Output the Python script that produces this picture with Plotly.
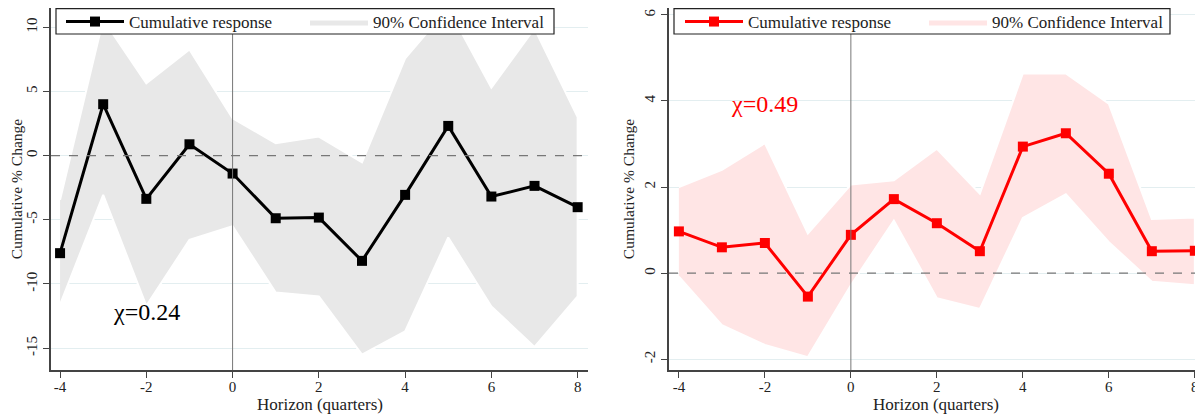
import plotly.graph_objects as go

horizon = [-4, -3, -2, -1, 0, 1, 2, 3, 4, 5, 6, 7, 8]

resp_a = [-7.6, 4.0, -3.37, 0.88, -1.40, -4.88, -4.83, -8.2, -3.06, 2.31, -3.19, -2.36, -4.02]
upper_a = [-3.45, 10.6, 5.63, 8.27, 2.9, 0.96, 1.48, -0.52, 7.57, 11.5, 5.3, 9.9, 3.0]
lower_a = [-11.6, -3.06, -11.7, -6.57, -5.5, -10.66, -10.97, -15.5, -13.7, -6.38, -11.75, -14.9, -10.97]

resp_b = [0.97, 0.60, 0.70, -0.545, 0.89, 1.72, 1.16, 0.51, 2.94, 3.25, 2.31, 0.51, 0.52]
upper_b = [2.0, 2.4, 3.02, 0.92, 2.06, 2.16, 2.89, 1.85, 4.64, 4.64, 3.94, 1.26, 1.29]
lower_b = [-0.08, -1.21, -1.67, -1.95, -0.28, 1.22, -0.58, -0.83, 1.28, 1.83, 0.72, -0.2, -0.28]

chi_a = "χ=0.24"
chi_b = "χ=0.49"
x_title = "Horizon (quarters)"
y_title = "Cumulative % Change"
x_ticks = [-4, -2, 0, 2, 4, 6, 8]
x_tick_labels = ["-4", "-2", "0", "2", "4", "6", "8"]
y_ticks_a = [-15, -10, -5, 0, 5, 10]
y_tick_labels_a = ["-15", "-10", "-5", "0", "5", "10"]
y_ticks_b = [-2, 0, 2, 4, 6]
y_tick_labels_b = ["-2", "0", "2", "4", "6"]

FONT = "Liberation Serif"
OFF = 8  # page body margin
W, H = 1203 - OFF, 415 - OFF


def px(sx):
    return (sx - OFF) / W


def py(sy):
    return 1 - (sy - OFF) / H


fig = go.Figure()


def add_panel(xa, ya, resp, up, lo, line_color, band_color, legend):
    bx = horizon + horizon[::-1]
    by = up + lo[::-1]
    fig.add_trace(go.Scatter(
        x=bx, y=by, fill="toself", fillcolor=band_color,
        line=dict(color="white", width=2), mode="lines",
        name="90% Confidence Interval", xaxis=xa, yaxis=ya,
        legend=legend, legendrank=2, hoverinfo="skip"))
    fig.add_trace(go.Scatter(
        x=horizon, y=resp, mode="lines+markers",
        line=dict(color=line_color, width=3),
        marker=dict(symbol="square", size=10, color=line_color),
        name="Cumulative response", xaxis=xa, yaxis=ya,
        legend=legend, legendrank=1, cliponaxis=False))


add_panel("x", "y", resp_a, upper_a, lower_a, "black", "#e8e8e8", "legend")
add_panel("x2", "y2", resp_b, upper_b, lower_b, "#ff0000", "#ffe5e5", "legend2")

ydom = [py(370), 1]
common_x = dict(
    tickvals=x_ticks, ticktext=x_tick_labels, showgrid=False, zeroline=False,
    showline=True, linecolor="#444", linewidth=1.5, ticks="outside",
    ticklen=6, tickcolor="#444", tickfont=dict(family=FONT, size=15, color="#222"),
    ticklabelstandoff=-4, ticklabeloverflow="allow",
    automargin=False)
common_y = dict(
    showgrid=True, gridcolor="#e3eef0", gridwidth=1, zeroline=False,
    showline=True, linecolor="#444", linewidth=1.5, ticks="outside",
    ticklen=6, tickcolor="#444", tickangle=-90, ticklabeloverflow="allow",
    tickfont=dict(family=FONT, size=15, color="#222"),
    title=dict(text=y_title, font=dict(family=FONT, size=15.5, color="#222"), standoff=4),
    automargin=False, domain=ydom)

legend_common = dict(orientation="h", xanchor="left", yanchor="top",
                     borderwidth=0, bgcolor="rgba(0,0,0,0)",
                     font=dict(family=FONT, size=17, color="#222"),
                     itemwidth=58, entrywidth=171, traceorder="normal")

fig.update_layout(
    width=W, height=H,
    margin=dict(l=0, r=0, t=0, b=0, autoexpand=False),
    paper_bgcolor="white", plot_bgcolor="white",
    xaxis=dict(common_x, range=[-4.21, 8.24], domain=[px(51), px(588)], anchor="y"),
    yaxis=dict(common_y, range=[-16.7, (155.7 - OFF) / 12.85], tickvals=y_ticks_a,
               ticktext=y_tick_labels_a, anchor="x"),
    xaxis2=dict(common_x, range=[-4.23, 8.19], domain=[px(669), 1.0], anchor="y2"),
    yaxis2=dict(common_y, range=[-2.25, 6.16], tickvals=y_ticks_b,
                ticktext=y_tick_labels_b, anchor="x2"),
    legend=dict(legend_common, x=px(61), y=1 + 4 / H),
    legend2=dict(legend_common, x=px(680), y=1 + 4 / H),
    showlegend=True,
)

for xa, ya in [("x", "y"), ("x2", "y2")]:
    fig.add_shape(type="line", xref=xa, yref=f"{ya} domain", x0=0, x1=0, y0=0, y1=1,
                  line=dict(color="#777", width=1), layer="above")
    fig.add_shape(type="line", xref=f"{xa} domain", yref=ya, x0=0, x1=1, y0=0, y1=0,
                  line=dict(color="#777", width=1.2, dash="dash"), layer="above")

# legend frames
for x0, x1 in [(56, 554), (674, 1170)]:
    fig.add_shape(type="rect", xref="paper", yref="paper",
                  x0=px(x0), x1=px(x1), y0=py(34), y1=py(8.7),
                  line=dict(color="#222", width=1.2), fillcolor="white", layer="above")

# x-axis titles
for cx in [320, 936]:
    fig.add_annotation(x=px(cx), y=py(404), xref="paper", yref="paper", text=x_title,
                       showarrow=False, xanchor="center", yanchor="middle",
                       font=dict(family=FONT, size=17, color="#222"))

fig.add_annotation(x=-2, y=-12.2, xref="x", yref="y", text=chi_a, showarrow=False,
                   font=dict(family=FONT, size=24, color="black"))
fig.add_annotation(x=-2, y=3.94, xref="x2", yref="y2", text=chi_b, showarrow=False,
                   font=dict(family=FONT, size=24, color="#ff0000"))

fig.write_html("out.html")
